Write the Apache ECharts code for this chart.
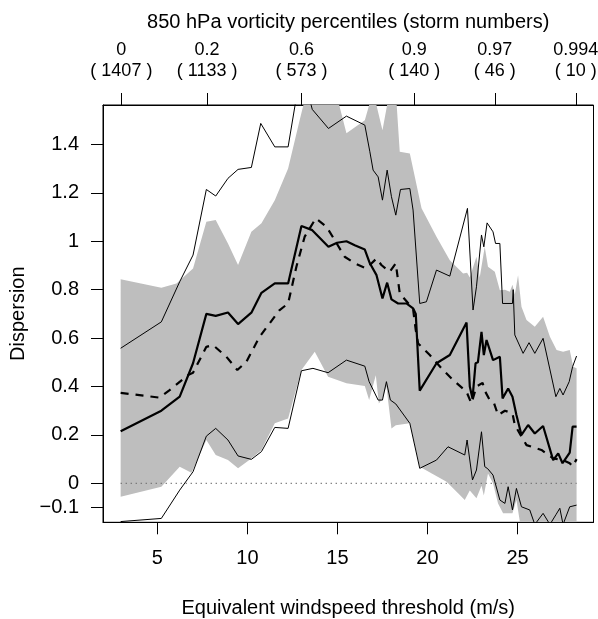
<!DOCTYPE html>
<html>
<head>
<meta charset="utf-8">
<script src="https://cdn.jsdelivr.net/npm/echarts@6/dist/echarts.min.js"></script>
<style>
html,body{margin:0;padding:0;background:#fff;}
#chart{width:598px;height:619px;}
</style>
</head>
<body>
<div id="chart"></div>
<script>
// ---- data (x = equivalent windspeed threshold, y = dispersion) ----
const solidLine = [[2.96,0.215],[5.22,0.30],[6.24,0.358],[6.98,0.496],[7.72,0.70],[8.24,0.692],[8.92,0.706],[9.48,0.658],[10.22,0.705],[10.78,0.787],[11.52,0.826],[12.26,0.826],[13.0,1.063],[13.6,1.046],[14.5,0.977],[14.98,0.994],[15.5,1.0],[15.96,0.984],[16.52,0.966],[16.8,0.909],[17.17,0.860],[17.5,0.764],[17.76,0.829],[18.0,0.760],[18.37,0.743],[18.83,0.743],[19.2,0.723],[19.35,0.70],[19.57,0.383],[20.5,0.496],[21.24,0.530],[22.17,0.664],[22.35,0.40],[22.5,0.35],[22.67,0.496],[22.8,0.50],[23.0,0.626],[23.13,0.53],[23.28,0.592],[23.64,0.509],[24.02,0.523],[24.17,0.351],[24.48,0.392],[24.72,0.358],[24.94,0.282],[25.22,0.20],[25.59,0.241],[25.96,0.206],[26.42,0.237],[26.98,0.096],[27.26,0.124],[27.5,0.083],[27.9,0.127],[28.06,0.234],[28.28,0.234]];
const dashedLine = [[2.96,0.374],[5.13,0.354],[5.68,0.385],[6.7,0.447],[6.98,0.457],[7.72,0.564],[8.09,0.571],[8.83,0.523],[9.44,0.468],[9.94,0.502],[10.68,0.606],[11.79,0.716],[12.26,0.743],[12.72,0.895],[13.18,1.019],[13.8,1.095],[14.39,1.06],[14.85,1.005],[15.4,0.936],[15.96,0.909],[16.6,0.888],[17.17,0.929],[17.44,0.902],[17.9,0.874],[18.24,0.909],[18.46,0.785],[19.2,0.72],[19.35,0.633],[19.48,0.578],[20.13,0.53],[20.78,0.475],[21.42,0.427],[22.17,0.378],[22.44,0.33],[22.72,0.40],[23.06,0.415],[23.2,0.38],[23.46,0.344],[23.7,0.33],[23.92,0.282],[24.3,0.30],[24.72,0.289],[24.85,0.241],[25.22,0.193],[25.5,0.158],[26.33,0.138],[26.98,0.103],[27.53,0.096],[27.9,0.083],[28.06,0.07],[28.28,0.10]];
const upperLine = [[2.96,0.558],[5.22,0.667],[6.24,0.833],[6.98,0.943],[7.72,1.214],[8.24,1.187],[8.92,1.26],[9.48,1.297],[10.22,1.305],[10.74,1.487],[11.52,1.39],[12.26,1.39],[13.0,1.72],[13.6,1.545],[14.5,1.466],[15.5,1.517],[16.52,1.48],[16.8,1.37],[16.98,1.294],[17.26,1.266],[17.5,1.17],[17.76,1.294],[18.0,1.184],[18.24,1.108],[18.5,1.214],[19.02,1.218],[19.2,1.129],[19.57,0.743],[19.94,0.75],[20.5,0.881],[21.24,0.856],[22.22,1.136],[22.53,0.716],[22.72,0.812],[23.0,1.026],[23.13,0.977],[23.31,1.076],[23.64,1.039],[23.78,0.991],[24.02,0.991],[24.17,0.743],[24.72,0.743],[24.76,0.80],[24.85,0.613],[25.31,0.537],[25.64,0.581],[25.96,0.537],[26.42,0.599],[27.13,0.358],[27.35,0.392],[27.53,0.365],[27.87,0.42],[28.06,0.482],[28.28,0.526]];
const lowerLine = [[2.96,-0.158],[5.22,-0.145],[6.24,-0.028],[6.98,0.048],[7.72,0.195],[8.24,0.227],[8.92,0.179],[9.48,0.113],[10.22,0.099],[10.78,0.131],[11.52,0.231],[12.26,0.227],[13.0,0.465],[13.64,0.475],[14.48,0.457],[15.5,0.509],[16.52,0.484],[16.76,0.42],[17.26,0.344],[17.5,0.344],[17.72,0.42],[17.94,0.344],[18.24,0.328],[19.02,0.248],[19.57,0.062],[20.5,0.096],[21.14,0.151],[22.07,0.117],[22.2,0.179],[22.5,0.014],[22.72,0.055],[23.0,0.213],[23.18,0.069],[23.35,0.06],[23.64,0.034],[24.02,-0.069],[24.3,-0.083],[24.48,-0.014],[24.72,-0.110],[24.94,-0.021],[25.22,-0.097],[25.68,-0.110],[25.96,-0.17],[26.42,-0.124],[26.8,-0.17],[27.13,-0.13],[27.35,-0.103],[27.53,-0.17],[27.9,-0.097],[28.28,-0.09]];
const bandUpper = [[2.96,0.843],[5.22,0.808],[6.06,0.826],[6.98,0.888],[7.72,1.081],[8.24,1.088],[8.92,0.991],[9.48,0.902],[10.22,1.039],[10.78,1.074],[11.52,1.17],[12.26,1.301],[12.9,1.5],[13.3,1.62],[14.9,1.62],[15.5,1.446],[16.52,1.5],[16.98,1.62],[17.5,1.459],[17.9,1.62],[18.24,1.62],[18.46,1.37],[19.02,1.363],[19.3,1.266],[19.67,1.136],[20.5,1.019],[21.24,0.922],[21.98,0.867],[22.2,0.87],[22.35,0.85],[22.72,0.936],[22.9,0.85],[23.18,0.977],[23.36,0.895],[23.74,0.874],[24.02,0.798],[24.3,0.80],[24.57,0.791],[24.72,0.82],[24.85,0.78],[25.03,0.86],[25.22,0.729],[25.5,0.675],[25.96,0.647],[26.42,0.688],[26.8,0.606],[27.17,0.551],[27.53,0.544],[27.9,0.551],[28.09,0.482],[28.28,0.475]];
const bandLower = [[2.96,-0.055],[5.22,-0.014],[6.24,0.069],[6.89,0.044],[7.72,0.179],[8.24,0.117],[8.92,0.096],[9.48,0.062],[10.22,0.103],[10.78,0.138],[11.52,0.248],[12.26,0.268],[13.0,0.468],[13.74,0.544],[14.48,0.44],[15.5,0.413],[16.52,0.402],[16.76,0.344],[17.13,0.447],[17.3,0.33],[17.5,0.35],[17.72,0.40],[18.0,0.227],[18.24,0.24],[19.02,0.248],[19.57,0.069],[21.06,0.007],[21.7,-0.041],[22.07,-0.069],[22.35,-0.03],[22.72,-0.062],[23.0,-0.01],[23.13,-0.05],[23.36,0.041],[23.64,0.0],[23.92,-0.083],[24.2,-0.124],[24.72,-0.124],[24.94,-0.069],[25.22,-0.2],[28.28,-0.2]];
const zeroLine = [[2.96,0],[28.28,0]];
const xTicks = [5,10,15,20,25];
const yTicks = [-0.1,0,0.2,0.4,0.6,0.8,1,1.2,1.4];
const topTickX = [3.0,7.76,13.0,19.26,23.74,28.24];
const topPercentiles = ['0','0.2','0.6','0.9','0.97','0.994'];
const topStormNumbers = ['1407','1133','573','140','46','10'];

const FONT = '"Liberation Sans", Arial, Helvetica, sans-serif';
const FS = 20;
const FS_TOP = 18;
const chart = echarts.init(document.getElementById('chart'), null, {renderer:'canvas'});
const baseAxis = {
  type:'value', min:1.98, max:29.22, splitLine:{show:false},
  axisLine:{show:true, onZero:false, lineStyle:{color:'#000', width:1}},
  axisTick:{show:true, length:12, lineStyle:{color:'#000', width:1}},
  axisLabel:{color:'#000', fontFamily:FONT, fontSize:FS}
};
chart.setOption({
  animation:false,
  backgroundColor:'#fff',
  grid:{left:103, right:4.5, top:105, bottom:96.7, containLabel:false, outerBoundsMode:'none',
    show:true, borderColor:'#000', borderWidth:1, backgroundColor:'transparent'},
  xAxis:[
    Object.assign({}, baseAxis, {
      position:'bottom',
      name:'Equivalent windspeed threshold (m/s)', nameLocation:'middle', nameGap:76,
      nameTextStyle:{color:'#000', fontFamily:FONT, fontSize:FS},
      axisTick:Object.assign({}, baseAxis.axisTick, {customValues:xTicks}),
      axisLabel:Object.assign({}, baseAxis.axisLabel, {customValues:xTicks, margin:26})
    }),
    Object.assign({}, baseAxis, {
      position:'top',
      name:'850 hPa vorticity percentiles (storm numbers)', nameLocation:'middle', nameGap:73,
      nameTextStyle:{color:'#000', fontFamily:FONT, fontSize:FS},
      axisTick:Object.assign({}, baseAxis.axisTick, {customValues:topTickX}),
      axisLabel:Object.assign({}, baseAxis.axisLabel, {
        customValues:topTickX, margin:23, fontSize:FS_TOP, lineHeight:21, align:'center',
        formatter:function(v){
          let best=0; for(let i=1;i<topTickX.length;i++){ if(Math.abs(topTickX[i]-v)<Math.abs(topTickX[best]-v)) best=i; }
          return topPercentiles[best] + '\n( ' + topStormNumbers[best] + ' )';
        }
      })
    })
  ],
  yAxis:{
    type:'value', min:-0.161, max:1.563, splitLine:{show:false},
    name:'Dispersion', nameLocation:'middle', nameGap:69, nameRotate:90,
    nameTextStyle:{color:'#000', fontFamily:FONT, fontSize:FS},
    axisLine:{show:true, onZero:false, lineStyle:{color:'#000', width:1}},
    axisTick:{show:true, length:12, customValues:yTicks, lineStyle:{color:'#000', width:1}},
    axisLabel:{color:'#000', fontFamily:FONT, fontSize:FS, margin:24, customValues:yTicks,
      formatter:function(v){ const r=Math.round(v*10)/10; return r<0 ? '\u2212'+String(-r) : String(r); }}
  },
  series:[
    {
      type:'custom', xAxisIndex:0, yAxisIndex:0, clip:true, silent:true, z:1,
      data:[[3,0]],
      renderItem:function(params, api){
        const pts = bandUpper.map(p=>api.coord(p)).concat(bandLower.slice().reverse().map(p=>api.coord(p)));
        const cs = params.coordSys;
        return {type:'group', children:[{type:'polygon', shape:{points:pts}, style:{fill:'#bebebe', stroke:null}}],
          clipPath:{type:'rect', shape:{x:cs.x, y:cs.y, width:cs.width, height:cs.height}}};
      }
    },
    {type:'line', data:zeroLine, symbol:'none', z:2, silent:true,
      lineStyle:{color:'#6e6e6e', width:1.2, type:[1.2,3.8]}},
    {type:'line', data:upperLine, symbol:'none', z:3, silent:true, clip:true,
      lineStyle:{color:'#000', width:1}},
    {type:'line', data:lowerLine, symbol:'none', z:3, silent:true, clip:true,
      lineStyle:{color:'#000', width:1}},
    {type:'line', data:dashedLine, symbol:'none', z:4, silent:true, clip:true,
      lineStyle:{color:'#000', width:2.2, type:[8,7]}},
    {type:'line', data:solidLine, symbol:'none', z:5, silent:true, clip:true,
      lineStyle:{color:'#000', width:2.2}}
  ]
});
</script>
</body>
</html>
